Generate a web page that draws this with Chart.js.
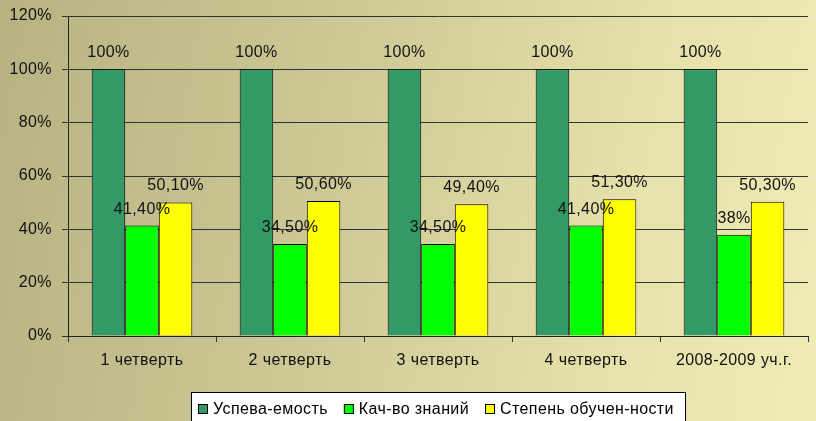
<!DOCTYPE html>
<html>
<head>
<meta charset="utf-8">
<script src="https://cdn.jsdelivr.net/npm/chart.js@4"></script>
<style>
    html, body { margin: 0; padding: 0; }
    body {
        width: 816px; height: 421px; overflow: hidden;
        background: linear-gradient(100deg, #b6b282 0%, #cdc996 40%, #e5e1aa 75%, #f0ecb5 100%);
    }
    #wrap { position: relative; width: 816px; height: 421px; }
</style>
</head>
<body>
<div id="wrap"><canvas id="chart" width="816" height="421"></canvas></div>
<script>
// Chart data
const categories = ['1 четверть', '2 четверть', '3 четверть', '4 четверть', '2008-2009 уч.г.'];
const seriesNames = ['Успева-емость', 'Кач-во знаний', 'Степень обучен-ности'];
const uspevaemost = [100, 100, 100, 100, 100];
const kachestvo = [41.4, 34.5, 34.5, 41.4, 38];
const stepen = [50.1, 50.6, 49.4, 51.3, 50.3];
const yTicks = [0, 20, 40, 60, 80, 100, 120];

const seriesColors = ['#339966', '#00ff00', '#ffff00'];
const FONT = 'Liberation Sans, Arial, sans-serif';

function formatPercent(v) {
    if (Number.isInteger(v)) return v + '%';
    return v.toFixed(2).replace('.', ',') + '%';
}

// slightly wider text, like the original
const spacing = {
    id: 'spacing',
    beforeDraw(chart) { chart.ctx.letterSpacing = '0.4px'; }
};

// Value labels above bars
const valueLabels = {
    id: 'valueLabels',
    afterDatasetsDraw(chart) {
        const ctx = chart.ctx;
        ctx.save();
        ctx.font = '16px ' + FONT;
        ctx.fillStyle = '#111';
        ctx.textAlign = 'center';
        ctx.textBaseline = 'alphabetic';
        chart.data.datasets.forEach((ds, i) => {
            chart.getDatasetMeta(i).data.forEach((bar, j) => {
                ctx.fillText(formatPercent(ds.data[j]), bar.x, bar.y - 12);
            });
        });
        ctx.restore();
    }
};

// Legend in a white box at the bottom
const boxLegend = {
    id: 'boxLegend',
    afterDraw(chart) {
        const ctx = chart.ctx;
        ctx.save();
        ctx.font = '16px ' + FONT;
        ctx.letterSpacing = '0.4px';
        const sq = 10, gap = 5, itemGap = 16;
        let total = 0;
        const widths = seriesNames.map(n => ctx.measureText(n).width);
        widths.forEach(w => total += sq + gap + w);
        total += itemGap * (seriesNames.length - 1);
        const boxW = Math.round(total + 18);
        const boxX = Math.round((chart.chartArea.left + chart.chartArea.right) / 2 - boxW / 2);
        const boxY = 392.5;
        ctx.fillStyle = '#ffffff';
        ctx.fillRect(boxX, boxY, boxW, 30);
        ctx.strokeStyle = '#000';
        ctx.lineWidth = 1;
        ctx.strokeRect(boxX + 0.5, boxY, boxW, 30);
        let x = boxX + 7;
        const cy = 409;
        ctx.textBaseline = 'middle';
        seriesNames.forEach((n, i) => {
            ctx.fillStyle = seriesColors[i];
            ctx.fillRect(x, cy - 5, sq, sq);
            ctx.strokeStyle = '#000';
            ctx.strokeRect(x + 0.5, cy - 4.5, sq - 1, sq - 1);
            x += sq + gap;
            ctx.fillStyle = '#000';
            ctx.fillText(n, x, cy + 1);
            x += widths[i] + itemGap;
        });
        ctx.restore();
    }
};

const data = {
    labels: categories,
    datasets: [uspevaemost, kachestvo, stepen].map((values, i) => ({
        label: seriesNames[i],
        data: values,
        backgroundColor: seriesColors[i],
        borderColor: '#000',
        borderWidth: 1,
        categoryPercentage: 0.68,
        barPercentage: 1
    }))
};

new Chart(document.getElementById('chart'), {
    type: 'bar',
    data: data,
    plugins: [spacing, valueLabels, boxLegend],
    options: {
        responsive: false,
        animation: false,
        layout: { padding: { top: 16, right: 8, bottom: 45, left: 0 } },
        plugins: {
            legend: { display: false },
            tooltip: { enabled: false }
        },
        scales: {
            y: {
                min: 0,
                max: 120,
                afterBuildTicks: axis => { axis.ticks = yTicks.map(v => ({ value: v })); },
                afterFit: axis => {
                    axis.width = 68;
                    axis.paddingTop = 0;
                    axis.paddingBottom = 0;
                },
                border: { color: '#222', width: 1 },
                grid: { color: '#333', lineWidth: 1, tickLength: 6, drawTicks: true },
                ticks: {
                    color: '#111',
                    font: { family: FONT, size: 16 },
                    padding: 10,
                    callback: v => v + '%'
                }
            },
            x: {
                afterFit: axis => { axis.height = 40; },
                border: { color: '#222', width: 1 },
                grid: { offset: true, drawOnChartArea: false, color: '#333', tickLength: 6 },
                ticks: {
                    color: '#111',
                    font: { family: FONT, size: 16 },
                    padding: 9
                }
            }
        }
    }
});
</script>
</body>
</html>
